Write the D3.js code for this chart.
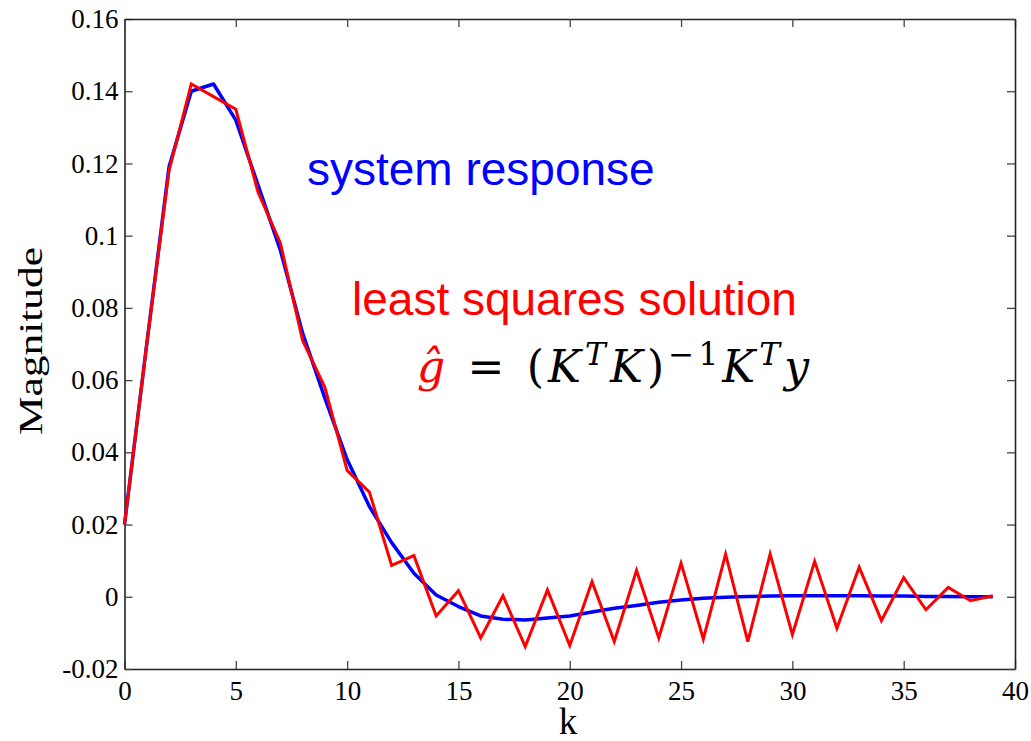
<!DOCTYPE html>
<html>
<head>
<meta charset="utf-8">
<script src="https://cdn.jsdelivr.net/npm/d3@7"></script>
<style>
  body { margin: 0; background: #fff; }
  .tick text { font-family: "Liberation Serif", "Times New Roman", serif; font-size: 27px; fill: #000; }
</style>
</head>
<body>
<div id="chart"></div>
<script>
var kValues = [0,1,2,3,4,5,6,7,8,9,10,11,12,13,14,15,16,17,18,19,
               20,21,22,23,24,25,26,27,28,29,30,31,32,33,34,35,36,37,38,39];
// system response (blue)
var systemResponse = [0.020,0.070,0.119,0.140,0.142,0.132,0.114,0.096,0.073,0.055,
                      0.038,0.025,0.015,0.0065,0.0005,-0.0027,-0.0053,-0.0062,-0.0064,-0.0059,
                      -0.0053,-0.0042,-0.0032,-0.0024,-0.0015,-0.0009,-0.0004,-0.0001,0.0001,0.0002,
                      0.0003,0.0003,0.0003,0.0003,0.0002,0.0002,0.0001,0.0001,0.0000,0.0000];
// least squares solution (red)
var leastSquares = [0.020,0.070,0.118,0.142,0.1385,0.135,0.112,0.098,0.071,0.058,
                    0.035,0.029,0.0087,0.0114,-0.0053,0.0017,-0.0114,0.0003,-0.0138,0.0019,
                    -0.0135,0.0042,-0.0124,0.0073,-0.0114,0.0093,-0.0117,0.0118,-0.0124,0.0118,
                    -0.0105,0.0098,-0.0087,0.0082,-0.0066,0.0053,-0.0036,0.0026,-0.0011,0.0003];
var xTicks = [0,5,10,15,20,25,30,35,40];
var yTicks = [-0.02,0,0.02,0.04,0.06,0.08,0.1,0.12,0.14,0.16];

var width = 1031, height = 741;
var margin = {top: 19, right: 16, bottom: 72, left: 124.5};
var innerW = width - margin.left - margin.right;
var innerH = height - margin.top - margin.bottom;

var svg = d3.select("#chart").append("svg")
    .attr("width", width)
    .attr("height", height);

var g = svg.append("g")
    .attr("transform", "translate(" + margin.left + "," + margin.top + ")");

var x = d3.scaleLinear().domain([0, 40]).range([0, innerW]);
var y = d3.scaleLinear().domain([-0.02, 0.16]).range([innerH, 0]);

// matlab style labels, plain hyphen for negatives
var fmtY = function(d){ return String(+d.toFixed(2)); };

// axes, ticks point inward
var xAxis = g.append("g")
    .attr("transform", "translate(0," + innerH + ")")
    .call(d3.axisBottom(x).tickValues(xTicks).tickSize(-8).tickSizeOuter(0).tickPadding(12));
var yAxis = g.append("g")
    .call(d3.axisLeft(y).tickValues(yTicks).tickSize(-8).tickSizeOuter(0).tickPadding(6).tickFormat(fmtY));
var xTop = g.append("g")
    .call(d3.axisTop(x).tickValues(xTicks).tickSize(-8).tickSizeOuter(0).tickFormat(""));
var yRight = g.append("g")
    .attr("transform", "translate(" + innerW + ",0)")
    .call(d3.axisRight(y).tickValues(yTicks).tickSize(-8).tickSizeOuter(0).tickFormat(""));

[xAxis, yAxis, xTop, yRight].forEach(function(a){
    a.select(".domain").attr("stroke", "#222").attr("stroke-width", 1.6);
    a.selectAll(".tick line").attr("stroke", "#444").attr("stroke-width", 1.3);
});

// lines
var line = d3.line()
    .x(function(d){ return x(d[0]); })
    .y(function(d){ return y(d[1]); });

g.append("path")
    .datum(kValues.map(function(k, i){ return [k, systemResponse[i]]; }))
    .attr("fill", "none")
    .attr("stroke", "#0000ff")
    .attr("stroke-width", 3.5)
    .attr("stroke-linejoin", "round")
    .attr("d", line);

g.append("path")
    .datum(kValues.map(function(k, i){ return [k, leastSquares[i]]; }))
    .attr("fill", "none")
    .attr("stroke", "#ff0000")
    .attr("stroke-width", 3)
    .attr("d", line);

// axis titles
svg.append("text")
    .attr("transform", "translate(42,341) rotate(-90)")
    .attr("text-anchor", "middle")
    .attr("textLength", 188)
    .attr("lengthAdjust", "spacingAndGlyphs")
    .style("font-family", "Liberation Serif, Times New Roman, serif")
    .style("font-size", "34px")
    .text("Magnitude");

svg.append("text")
    .attr("x", 568)
    .attr("y", 734)
    .attr("text-anchor", "middle")
    .style("font-family", "Liberation Serif, Times New Roman, serif")
    .style("font-size", "37px")
    .text("k");

// annotations
svg.append("text")
    .attr("x", 307)
    .attr("y", 185)
    .attr("fill", "#0000ff")
    .style("font-family", "Liberation Sans, Arial, sans-serif")
    .style("font-size", "46px")
    .text("system response");

svg.append("text")
    .attr("x", 352)
    .attr("y", 315)
    .attr("fill", "#ff0000")
    .style("font-family", "Liberation Sans, Arial, sans-serif")
    .style("font-size", "46px")
    .text("least squares solution");

// formula g-hat = (K^T K)^-1 K^T y
var formula = svg.append("text")
    .attr("x", 417)
    .attr("y", 382)
    .attr("textLength", 392)
    .attr("lengthAdjust", "spacing")
    .style("font-family", "DejaVu Serif, serif")
    .style("font-size", "44px");
var parts = [
    {t: "\u011D", italic: true, fill: "#ff0000"},
    {t: " = (", italic: false},
    {t: "K", italic: true},
    {t: "T", italic: true, sup: true},
    {t: "K", italic: true},
    {t: ")", italic: false},
    {t: "\u22121", italic: false, sup: true},
    {t: "K", italic: true},
    {t: "T", italic: true, sup: true},
    {t: "y", italic: true}
];
var lastSup = false;
parts.forEach(function(p){
    var ts = formula.append("tspan")
        .attr("fill", p.fill || "#000")
        .style("font-style", p.italic ? "italic" : "normal")
        .text(p.t);
    if (p.sup) ts.style("font-size", "31px");
    if (p.sup && !lastSup) ts.attr("dy", -17);
    else if (!p.sup && lastSup) ts.attr("dy", 17);
    lastSup = !!p.sup;
});
</script>
</body>
</html>
